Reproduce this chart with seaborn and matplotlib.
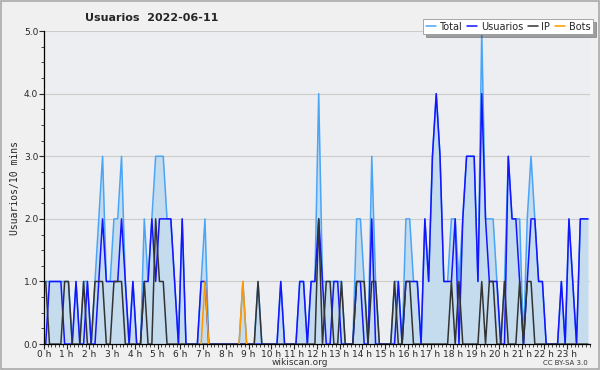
import numpy as np
import pandas as pd
import matplotlib
matplotlib.use("Agg")
import matplotlib.pyplot as plt
import seaborn as sns
from matplotlib.ticker import MultipleLocator

# 10-minute values, one row per hour
total = [
    1, 1, 1, 1, 1, 1,   1, 0, 1, 0, 1, 1,   0, 1, 2, 3, 1, 1,   2, 2, 3, 1, 0, 1,
    0, 0, 2, 1, 2, 3,   3, 3, 2, 2, 1, 0,   2, 0, 0, 0, 0, 1,   2, 0, 0, 0, 0, 0,
    0, 0, 0, 0, 1, 0,   0, 0, 1, 0, 0, 0,   0, 0, 1, 0, 0, 0,   0, 1, 1, 0, 1, 1,
    4, 1, 1, 1, 1, 1,   1, 0, 0, 0, 2, 2,   1, 0, 3, 1, 0, 0,   0, 0, 1, 1, 0, 2,
    2, 1, 1, 0, 2, 1,   3, 4, 3, 1, 1, 2,   2, 1, 2, 3, 3, 3,   1, 5, 2, 2, 2, 1,
    0, 1, 3, 2, 2, 2,   0, 2, 3, 2, 1, 1,   0, 0, 0, 0, 1, 0,   2, 1, 0, 2, 2, 2,
]
usuarios = [
    0, 1, 1, 1, 1, 0,   0, 0, 1, 0, 0, 1,   0, 0, 1, 2, 1, 1,   1, 1, 2, 1, 0, 1,
    0, 0, 1, 1, 2, 1,   2, 2, 2, 2, 1, 0,   2, 0, 0, 0, 0, 1,   1, 0, 0, 0, 0, 0,
    0, 0, 0, 0, 0, 0,   0, 0, 0, 0, 0, 0,   0, 0, 1, 0, 0, 0,   0, 1, 1, 0, 1, 1,
    2, 1, 0, 0, 1, 1,   0, 0, 0, 0, 1, 1,   0, 0, 2, 0, 0, 0,   0, 0, 0, 1, 0, 1,
    1, 1, 1, 0, 2, 1,   3, 4, 3, 1, 1, 1,   2, 0, 2, 3, 3, 3,   1, 4, 2, 1, 1, 1,
    0, 0, 3, 2, 2, 1,   0, 1, 2, 2, 1, 1,   0, 0, 0, 0, 1, 0,   2, 1, 0, 2, 2, 2,
]
ip = [
    1, 0, 0, 0, 0, 1,   1, 0, 0, 0, 1, 0,   0, 1, 1, 1, 0, 0,   1, 1, 1, 0, 0, 0,
    0, 0, 1, 0, 0, 2,   1, 1, 0, 0, 0, 0,   0, 0, 0, 0, 0, 0,   0, 0, 0, 0, 0, 0,
    0, 0, 0, 0, 0, 0,   0, 0, 1, 0, 0, 0,   0, 0, 0, 0, 0, 0,   0, 0, 0, 0, 0, 0,
    2, 0, 1, 1, 0, 0,   1, 0, 0, 0, 1, 1,   1, 0, 1, 1, 0, 0,   0, 0, 1, 0, 0, 1,
    1, 0, 0, 0, 0, 0,   0, 0, 0, 0, 0, 1,   0, 1, 0, 0, 0, 0,   0, 1, 0, 1, 1, 0,
    0, 1, 0, 0, 0, 1,   0, 1, 1, 0, 0, 0,   0, 0, 0, 0, 0, 0,   0, 0, 0, 0, 0, 0,
]
bots = [0] * 144
bots[42] = 1
bots[52] = 1

hour_labels = [f"{h} h" for h in range(24)]

slot = np.arange(144)
hours = (slot + 0.5) / 6.0
df = pd.DataFrame({"hour": hours, "Total": total, "Usuarios": usuarios,
                   "IP": ip, "Bots": bots})

sns.set_style("white")
plt.rcParams["font.family"] = ["DejaVu Sans"]

fig = plt.figure(figsize=(6, 3.7), dpi=100, facecolor="#f0f0f0")
ax = fig.add_axes([0.073, 0.07, 0.910, 0.846])
ax.set_facecolor("#eceef1")

colors = {"Total": "#4aa5f7", "Usuarios": "#1414ff", "IP": "#333333", "Bots": "#ff9900"}

ax.fill_between(df["hour"], df["Total"], 0, color="#c5dcef", lw=0, zorder=1)
for name in ["Total", "Usuarios", "IP"]:
    sns.lineplot(data=df, x="hour", y=name, ax=ax, color=colors[name], lw=1.1,
                 zorder=3)
# bots only show where they are non-zero
for k in np.where(df["Bots"].values > 0)[0]:
    seg = df.iloc[k - 1:k + 2]
    sns.lineplot(data=seg, x="hour", y="Bots", ax=ax, color=colors["Bots"],
                 lw=1.1, zorder=4)

ax.set_xlim(0, 24)
ax.set_ylim(0, 5)
ax.set_xticks(range(24))
ax.set_xticklabels(hour_labels, fontsize=6.5)
ax.xaxis.set_minor_locator(MultipleLocator(1 / 6))
ax.yaxis.set_major_locator(MultipleLocator(1))
ax.yaxis.set_minor_locator(MultipleLocator(0.25))
ax.set_yticklabels([f"{v:.1f}" for v in ax.get_yticks()], fontsize=6.5)
ax.tick_params(axis="both", which="major", direction="out", length=3.5, width=0.8,
               pad=0.5, bottom=True, left=True)
ax.tick_params(axis="both", which="minor", direction="out", length=2.5, width=0.6,
               bottom=True, left=True)
ax.grid(axis="y", color="#cccccc", lw=0.8)
ax.set_axisbelow(True)
for s in ["top", "right"]:
    ax.spines[s].set_visible(False)
for s in ["left", "bottom"]:
    ax.spines[s].set_color("black")
    ax.spines[s].set_linewidth(0.9)

ax.set_xlabel("")
ax.set_ylabel("Usuarios/10 mins", fontsize=7, family="DejaVu Sans Mono", labelpad=3)

fig.text(0.142, 0.952, "Usuarios  2022-06-11", fontsize=8, fontweight="bold",
         ha="left", va="center")
fig.text(0.5, 0.019, "wikiscan.org", fontsize=6.5, ha="center", va="center", color="#333333")
fig.text(0.98, 0.019, "CC BY-SA 3.0", fontsize=5, ha="right", va="center", color="#333333")

handles = [plt.Line2D([], [], color=colors[n], lw=1.1) for n in ["Total", "Usuarios", "IP", "Bots"]]
leg = fig.legend(handles, ["Total", "Usuarios", "IP", "Bots"], loc="upper right",
                 bbox_to_anchor=(0.988, 0.948), ncol=4, fontsize=7, frameon=True,
                 fancybox=False, shadow=True, handlelength=1.0, handletextpad=0.4,
                 columnspacing=0.5, borderpad=0.25, borderaxespad=0)
leg.get_frame().set_edgecolor("#999999")
leg.get_frame().set_linewidth(0.6)

border = plt.Rectangle((0.002, 0.003), 0.996, 0.994, transform=fig.transFigure,
                       fill=False, edgecolor="#aaaaaa", lw=1.2)
fig.patches.append(border)

fig.savefig("out.png", dpi=100, facecolor=fig.get_facecolor())
